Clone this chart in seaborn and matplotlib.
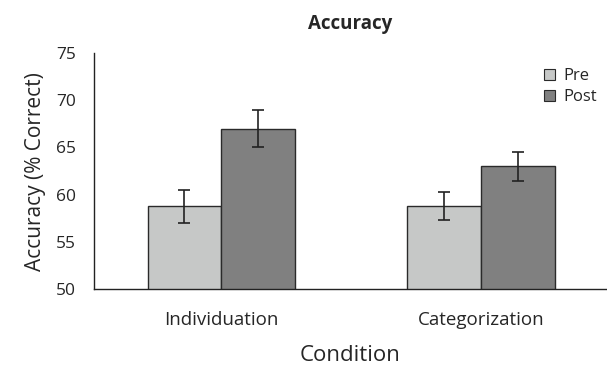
import matplotlib
matplotlib.use("Agg")
import matplotlib.pyplot as plt
import numpy as np
import pandas as pd
import seaborn as sns

# Values
conditions = ["Individuation", "Categorization"]
phases = ["Pre", "Post"]
pre_means = [58.8, 58.8]
post_means = [67.0, 63.0]
pre_err = [1.75, 1.45]
post_err = [1.95, 1.55]

df = pd.DataFrame({
    "Condition": conditions * 2,
    "Phase": ["Pre"] * 2 + ["Post"] * 2,
    "Accuracy": pre_means + post_means,
    "Err": pre_err + post_err,
})

sns.set_style("white")
plt.rcParams["font.family"] = ["Open Sans", "DejaVu Sans"]

fig = plt.figure(figsize=(6.07, 3.66), dpi=100)
ax = fig.add_axes([0.1549, 0.21, 0.8451, 0.645])

sns.barplot(data=df, x="Condition", y="Accuracy", hue="Phase", order=conditions,
            hue_order=phases, palette={"Pre": "#c6c8c7", "Post": "#808080"},
            width=0.567, errorbar=None, edgecolor="#2a2a2a", linewidth=1.0,
            ax=ax)

# error bars at the centre of each bar drawn by seaborn
for container, phase in zip(ax.containers, phases):
    sub = df[df["Phase"] == phase].set_index("Condition").loc[conditions]
    xs = [p.get_x() + p.get_width() / 2 for p in container.patches]
    ax.errorbar(xs, sub["Accuracy"], yerr=sub["Err"], fmt="none",
                ecolor="#222222", elinewidth=1.2, capsize=4, capthick=1.2)

ax.set_ylim(50, 75)
ax.set_yticks(range(50, 76, 5))
ax.set_xlim(-0.49, 1.485)
ax.tick_params(axis="y", direction="out", length=4, width=1, labelsize=12.5,
               pad=9, color="#222222")
ax.tick_params(axis="x", length=0, labelsize=13.5, pad=16)
for s in ["top", "right"]:
    ax.spines[s].set_visible(False)
for s in ["left", "bottom"]:
    ax.spines[s].set_color("#222222")
    ax.spines[s].set_linewidth(1.0)

ax.set_title("Accuracy", fontsize=13.5, fontweight="bold", pad=17)
ax.set_ylabel("Accuracy (% Correct)", fontsize=15, labelpad=7)
ax.set_xlabel("Condition", fontsize=16, labelpad=11)

leg = ax.legend(loc="upper right", bbox_to_anchor=(1.01, 1.0), frameon=False,
                fontsize=12, handlelength=0.65, handleheight=0.65,
                handletextpad=0.5, labelspacing=0.3)
for h in leg.legend_handles:
    h.set_edgecolor("#2a2a2a")
    h.set_linewidth(0.8)

fig.savefig("out.png", dpi=100)
